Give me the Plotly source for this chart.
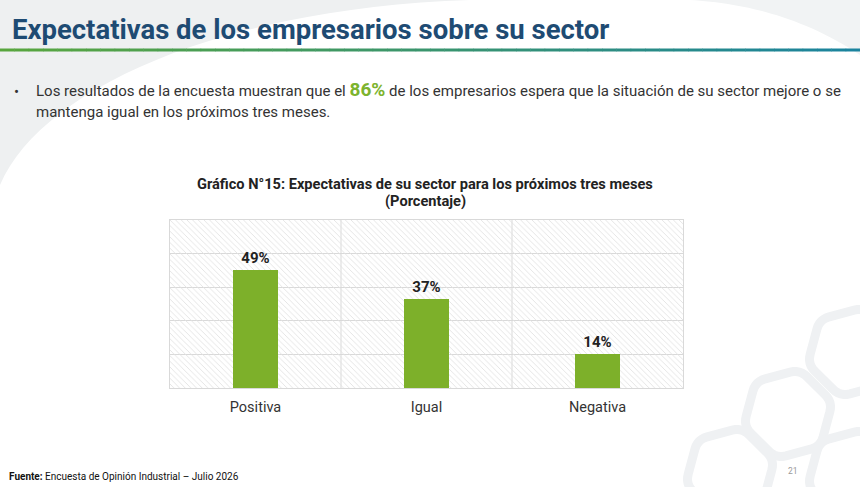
import plotly.graph_objects as go
import math

# ---- data ----
categories = ["Positiva", "Igual", "Negativa"]
values = [49, 37, 14]
y_ticks = [0, 14, 28, 42, 56, 70]
highlight = "86%"

title_text = "Expectativas de los empresarios sobre su sector"
bullet_line1_a = "Los resultados de la encuesta muestran que el "
bullet_line1_b = " de los empresarios espera que la situación de su sector mejore o se"
bullet_line2 = "mantenga igual en los próximos tres meses."
chart_title_1 = "Gráfico N°15: Expectativas de su sector para los próximos tres meses"
chart_title_2 = "(Porcentaje)"
source_bold = "Fuente:"
source_text = " Encuesta de Opinión Industrial – Julio 2026"
page_no = "21"

# ---- geometry (pixels) ----
W_PX, H_PX = 860, 487
L, R, T, B = 170, 683, 220, 388
PW, PH = R - L, B - T

def px(x, y):
    return (x - L) / PW, (B - y) / PH

BAR = "#7DB02A"
GRID = "#d9d9d9"
TXT = "#333333"
NAVY = "#1E4B73"

fig = go.Figure()

# hatched plot background
fig.add_bar(
    x=categories, y=[y_ticks[-1]] * len(categories), width=1,
    marker=dict(color="rgba(0,0,0,0)", line_width=0,
                pattern=dict(shape="\\", fgcolor="#e2e2e2", bgcolor="rgba(0,0,0,0)",
                             size=4, solidity=0.22, fillmode="replace")),
    hoverinfo="skip", showlegend=False,
)

fig.add_bar(
    x=categories, y=values, width=0.265,
    marker=dict(color=BAR, line_width=0),
    texttemplate="<b>%{y}%</b>", textposition="outside",
    textfont=dict(size=15, color="#222222", family="Roboto"),
    cliponaxis=False, showlegend=False,
)

shapes = []

def path_px(points, close=True):
    s = ""
    for i, (x, y) in enumerate(points):
        xp, yp = px(x, y)
        s += ("M" if i == 0 else "L") + f"{xp:.5f},{yp:.5f} "
    return s + ("Z" if close else "")

def cubic(p0, p1, p2, p3, n=30):
    pts = []
    for i in range(n + 1):
        t = i / n
        x = (1-t)**3*p0[0] + 3*(1-t)**2*t*p1[0] + 3*(1-t)*t**2*p2[0] + t**3*p3[0]
        y = (1-t)**3*p0[1] + 3*(1-t)**2*t*p1[1] + 3*(1-t)*t**2*p2[1] + t**3*p3[1]
        pts.append((x, y))
    return pts

# background decoration: light grey swoosh top-left
swoosh = [(0, 0)] + cubic((470, 0), (220, 8), (40, 90), (0, 185))
shapes.append(dict(type="path", xref="paper", yref="paper", path=path_px(swoosh),
                   fillcolor="#eef0f1", line_width=0, layer="below"))
swoosh2 = [(860, 0), (860, 55)] + cubic((860, 55), (800, 15), (740, 3), (690, 0))
shapes.append(dict(type="path", xref="paper", yref="paper", path=path_px(swoosh2),
                   fillcolor="#f1f3f4", line_width=0, layer="below"))

# rounded hexagon outlines bottom-right
def rounded_hex(cx, cy, r, rot, cut=0.22):
    verts = [(cx + r * math.cos(math.radians(rot + 60 * k)),
              cy - r * math.sin(math.radians(rot + 60 * k))) for k in range(6)]
    pts = []
    for k in range(6):
        p_prev = verts[k - 1]
        p = verts[k]
        p_next = verts[(k + 1) % 6]
        a = (p[0] + (p_prev[0] - p[0]) * cut, p[1] + (p_prev[1] - p[1]) * cut)
        b = (p[0] + (p_next[0] - p[0]) * cut, p[1] + (p_next[1] - p[1]) * cut)
        for i in range(7):
            t = i / 6
            x = (1-t)**2*a[0] + 2*(1-t)*t*p[0] + t**2*b[0]
            y = (1-t)**2*a[1] + 2*(1-t)*t*p[1] + t**2*b[1]
            pts.append((x, y))
    return pts

for cx, cy, r in [(852, 352, 46), (788, 414, 46), (730, 472, 46), (852, 474, 46)]:
    shapes.append(dict(type="path", xref="paper", yref="paper",
                       path=path_px(rounded_hex(cx, cy, r, 75)),
                       line=dict(color="#eff1f3", width=9), fillcolor="rgba(0,0,0,0)",
                       layer="below"))

# gradient rule under the title
n_seg = 60
c0, c1 = (88, 166, 62), (27, 131, 158)
for i in range(n_seg):
    f = i / (n_seg - 1)
    col = "rgb({},{},{})".format(*[round(a + (b - a) * f) for a, b in zip(c0, c1)])
    x0 = 860 * i / n_seg
    x1 = 860 * (i + 1) / n_seg
    a, yy = px(x0, 50)
    b, _ = px(x1 + 0.5, 50)
    shapes.append(dict(type="line", xref="paper", yref="paper", x0=a, x1=b, y0=yy, y1=yy,
                       line=dict(color=col, width=3)))

# category separators
for k in range(1, len(categories)):
    shapes.append(dict(type="line", xref="x", yref="y domain", x0=k - 0.5, x1=k - 0.5,
                       y0=0, y1=1, line=dict(color=GRID, width=1), layer="below"))

ann = []
def add_text(x, y, text, size, color=TXT, xanchor="left", family="Roboto"):
    xp, yp = px(x, y)
    ann.append(dict(xref="paper", yref="paper", x=xp, y=yp, text=text, showarrow=False,
                    xanchor=xanchor, yanchor="middle",
                    font=dict(size=size, color=color, family=family)))

add_text(10, 29, f"<b>{title_text}</b>", 27.5, color=NAVY)
add_text(12, 92, "•", 15, color=TXT)
add_text(34, 89, bullet_line1_a + f"<b><span style='color:#7CB32E;font-size:19px'>{highlight}</span></b>" + bullet_line1_b, 15)
add_text(34, 112, bullet_line2, 15)
add_text(425, 184, f"<b>{chart_title_1}</b>", 14.6, color="#222222", xanchor="center")
add_text(425, 201, f"<b>{chart_title_2}</b>", 14.6, color="#222222", xanchor="center")
add_text(7, 476, f"<b>{source_bold}</b>{source_text}", 10, color="#111111")
add_text(793, 471, page_no, 8.5, color="#9a9a9a", xanchor="center")

fig.update_layout(
    width=W_PX, height=H_PX,
    margin=dict(l=L, r=W_PX - R, t=T, b=H_PX - B, pad=0),
    paper_bgcolor="white", plot_bgcolor="rgba(0,0,0,0)",
    barmode="overlay", bargap=0,
    font=dict(family="Roboto", color=TXT),
    shapes=shapes, annotations=ann,
    xaxis=dict(type="category", range=[-0.5, len(categories) - 0.5], showgrid=False,
               showline=True, mirror=True, linecolor=GRID, linewidth=1,
               ticks="", ticklabelstandoff=6,
               tickfont=dict(size=14.5, color=TXT), fixedrange=True),
    yaxis=dict(range=[y_ticks[0], y_ticks[-1]], tickvals=y_ticks, showticklabels=False,
               showgrid=True, gridcolor=GRID, gridwidth=1, zeroline=False,
               showline=True, mirror=True, linecolor=GRID, linewidth=1, fixedrange=True),
)

fig.write_html("out.html", config={"displayModeBar": False},
               post_script="document.body.style.margin='0';document.body.style.overflow='hidden';")
